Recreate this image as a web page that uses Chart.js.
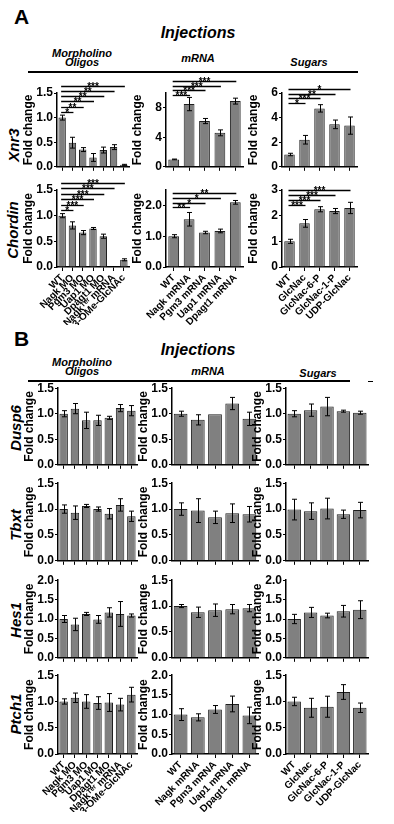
<!DOCTYPE html>
<html>
<head>
<meta charset="utf-8">
<script src="https://cdn.jsdelivr.net/npm/chart.js@4.4.1/dist/chart.umd.min.js"></script>
<style>
  body { margin: 0; background: #fff; width: 394px; height: 824px; position: relative; overflow: hidden;
         font-family: "Liberation Sans", Arial, sans-serif; }
  .t { position: absolute; font-weight: bold; color: #000; white-space: nowrap; line-height: 1; }
  .c { transform: translateX(-50%); text-align: center; }
  .i { font-style: italic; }
  .gene { position: absolute; transform: translate(-50%, -50%) rotate(-90deg); font-weight: bold;
          font-style: italic; font-size: 15px; white-space: nowrap; line-height: 1; }
  .rule { position: absolute; height: 1.5px; background: #000; }
  canvas { position: absolute; }
</style>
</head>
<body>
<div class="t" style="left:14px;top:6px;font-size:21px">A</div>
<div class="t c i" style="left:198px;top:25px;font-size:16px">Injections</div>
<div class="t c i" style="left:82px;top:49px;font-size:11px;line-height:9px">Morpholino<br>Oligos</div>
<div class="t c i" style="left:198px;top:53px;font-size:11px">mRNA</div>
<div class="t c i" style="left:309px;top:57px;font-size:11px">Sugars</div>
<div class="rule" style="left:28px;top:71px;width:330px"></div>

<div class="t" style="left:14px;top:328px;font-size:21px">B</div>
<div class="t c i" style="left:198px;top:342px;font-size:16px">Injections</div>
<div class="t c i" style="left:82px;top:358px;font-size:11px;line-height:9px">Morpholino<br>Oligos</div>
<div class="t c i" style="left:208px;top:366px;font-size:11px">mRNA</div>
<div class="t c i" style="left:318px;top:368px;font-size:11px">Sugars</div>
<div class="rule" style="left:28px;top:380px;width:322px"></div>
<div class="rule" style="left:368px;top:381px;width:5px;height:1px"></div>

<div class="gene" style="left:13px;top:145px">Xnr3</div>
<div class="gene" style="left:12px;top:230px">Chordin</div>
<div class="gene" style="left:15px;top:428px">Dusp6</div>
<div class="gene" style="left:15px;top:525px">Tbxt</div>
<div class="gene" style="left:15px;top:620px">Hes1</div>
<div class="gene" style="left:15px;top:714px">Ptch1</div>

<script>
// categories
const moLabels = ['WT', 'Nagk MO', 'Pgm3 MO', 'Uap1 MO', 'Dpagt1 MO', 'Nagkᵀᵉʳ mRNA', '3-OMe-GlcNAc'];
const mrnaLabels = ['WT', 'Nagk mRNA', 'Pgm3 mRNA', 'Uap1 mRNA', 'Dpagt1 mRNA'];
const sugarLabels = ['WT', 'GlcNac', 'GlcNac-6-P', 'GlcNac-1-P', 'UDP-GlcNac'];

// panel A
const xnr3MO = [1.0, 0.49, 0.35, 0.19, 0.34, 0.40, 0.04];
const xnr3MOErr = [0.05, 0.11, 0.04, 0.08, 0.06, 0.05, 0.01];
const xnr3MOSig = ['*', '**', '**', '**', '**', '***'];
const xnr3MRNA = [1.0, 8.5, 6.2, 4.6, 8.9];
const xnr3MRNAErr = [0.05, 0.9, 0.35, 0.4, 0.4];
const xnr3MRNASig = ['***', '***', '***', '***'];
const xnr3Sugar = [1.0, 2.2, 4.75, 3.45, 3.35];
const xnr3SugarErr = [0.1, 0.35, 0.3, 0.35, 0.7];
const xnr3SugarSig = ['*', '***', '**', '*'];

const chdMO = [1.0, 0.81, 0.67, 0.75, 0.6, null, 0.14];
const chdMOErr = [0.04, 0.07, 0.04, 0.02, 0.04, 0, 0.02];
const chdMOSig = ['*', '***', '***', '***', '***', '***'];
const chdMRNA = [1.0, 1.55, 1.12, 1.17, 2.1];
const chdMRNAErr = [0.05, 0.22, 0.04, 0.06, 0.06];
const chdMRNASig = ['**', '*', '*', '**'];
const chdSugar = [1.0, 1.7, 2.25, 2.18, 2.3];
const chdSugarErr = [0.08, 0.15, 0.1, 0.1, 0.22];
const chdSugarSig = ['***', '***', '***', '***'];

// panel B
const duspMO = [1.0, 1.1, 0.87, 0.87, 0.92, 1.11, 1.06];
const duspMOErr = [0.06, 0.1, 0.16, 0.1, 0.03, 0.07, 0.1];
const duspMRNA = [1.0, 0.88, 0.99, 1.2, 0.9];
const duspMRNAErr = [0.05, 0.1, 0, 0.12, 0.13];
const duspSugar = [1.0, 1.07, 1.14, 1.05, 1.02];
const duspSugarErr = [0.06, 0.12, 0.18, 0.02, 0.03];

const tbxtMO = [1.0, 0.93, 1.06, 1.0, 0.91, 1.08, 0.86];
const tbxtMOErr = [0.08, 0.13, 0.03, 0.04, 0.1, 0.12, 0.1];
const tbxtMRNA = [1.0, 0.97, 0.84, 0.92, 0.9];
const tbxtMRNAErr = [0.12, 0.23, 0.12, 0.18, 0.15];
const tbxtSugar = [0.99, 0.96, 1.01, 0.9, 0.98];
const tbxtSugarErr = [0.2, 0.16, 0.2, 0.08, 0.15];

const hesMO = [1.0, 0.86, 1.13, 0.99, 1.17, 1.13, 1.09];
const hesMOErr = [0.09, 0.16, 0.04, 0.1, 0.12, 0.32, 0.04];
const hesMRNA = [1.0, 0.88, 0.92, 0.94, 0.96];
const hesMRNAErr = [0.03, 0.1, 0.12, 0.09, 0.07];
const hesSugar = [1.0, 1.17, 1.09, 1.2, 1.24];
const hesSugarErr = [0.12, 0.13, 0.06, 0.15, 0.23];

const ptchMO = [1.0, 1.07, 1.0, 0.97, 0.98, 0.94, 1.13];
const ptchMOErr = [0.05, 0.09, 0.13, 0.12, 0.17, 0.12, 0.14];
const ptchMRNA = [1.0, 0.93, 1.13, 1.27, 0.98];
const ptchMRNAErr = [0.15, 0.09, 0.1, 0.2, 0.21];
const ptchSugar = [1.0, 0.88, 0.9, 1.18, 0.88];
const ptchSugarErr = [0.08, 0.18, 0.2, 0.14, 0.09];

Chart.defaults.font.family = '"Liberation Sans", Arial, sans-serif';
Chart.defaults.font.weight = 'bold';
Chart.defaults.color = '#000';

// error bars + significance brackets
const extras = {
  id: 'extras',
  afterDatasetsDraw(chart, args, opts) {
    const ctx = chart.ctx, xs = chart.scales.x, ys = chart.scales.y;
    const ds = chart.data.datasets[0];
    ctx.save();
    ctx.strokeStyle = '#000';
    ctx.fillStyle = '#000';
    ctx.lineWidth = 1;
    ds.data.forEach((v, i) => {
      const e = ds.err[i];
      if (v == null || !e) return;
      const x = Math.round(xs.getPixelForValue(i)) + 0.5;
      const yt = ys.getPixelForValue(v + e), yb = ys.getPixelForValue(v - e);
      ctx.beginPath();
      ctx.moveTo(x, yt); ctx.lineTo(x, yb);
      ctx.moveTo(x - 2.5, yt); ctx.lineTo(x + 2.5, yt);
      ctx.moveTo(x - 2.5, yb); ctx.lineTo(x + 2.5, yb);
      ctx.stroke();
    });
    (opts.sig || []).forEach((lab, k) => {
      const x0 = xs.getPixelForValue(0), x1 = xs.getPixelForValue(k + 1);
      const y = Math.round(ys.getPixelForValue(opts.base + k * opts.step)) + 0.5;
      ctx.lineWidth = 1.3;
      ctx.beginPath();
      ctx.moveTo(x0 - 1, y); ctx.lineTo(x1 + 1, y);
      ctx.stroke();
      ctx.font = 'bold 10px "Liberation Sans", Arial';
      ctx.textAlign = 'center';
      ctx.textBaseline = 'alphabetic';
      ctx.fillText(lab, (x0 + x1) / 2, y + 3);
    });
    ctx.restore();
  }
};

function panel(o) {
  const yw = 36;
  const padTop = o.padTop;
  const bottom = o.labels ? 58 : 6;
  const w = o.right - o.left + yw + 6;
  const h = padTop + (o.bottom - o.top) + bottom;
  const c = document.createElement('canvas');
  c.width = w; c.height = h;
  c.style.left = (o.left - yw) + 'px';
  c.style.top = (o.top - padTop) + 'px';
  document.body.appendChild(c);
  new Chart(c, {
    type: 'bar',
    data: {
      labels: o.cats,
      datasets: [{
        data: o.data,
        err: o.err,
        backgroundColor: '#808080',
        borderColor: '#1e1e1e',
        borderWidth: 1,
        barPercentage: o.bp,
        categoryPercentage: 1
      }]
    },
    options: {
      responsive: false,
      animation: false,
      devicePixelRatio: 1,
      layout: { padding: { top: padTop, right: 6, left: 0, bottom: 0 } },
      plugins: {
        legend: { display: false },
        tooltip: { enabled: false },
        extras: { sig: o.sig, base: o.sigBase, step: o.sigStep }
      },
      scales: {
        x: {
          grid: { drawOnChartArea: false, drawTicks: true, tickLength: 4, color: '#000', offset: false },
          border: { color: '#000', width: 1.5 },
          ticks: { display: !!o.labels, autoSkip: false, maxRotation: 45, minRotation: 45, padding: 1,
                   font: { size: 10, weight: 'bold' } },
          afterFit: s => { s.height = bottom; }
        },
        y: {
          min: 0, max: o.max,
          ticks: { stepSize: o.step, padding: 1, font: { size: 12, weight: 'bold' },
                   callback: v => o.dec ? v.toFixed(1) : v },
          grid: { drawOnChartArea: false, tickLength: 3, color: '#000' },
          border: { color: '#000', width: 1.5 },
          title: { display: true, text: 'Fold change', font: { size: 12, weight: 'bold' },
                   padding: { top: 0, bottom: 0 } },
          afterFit: s => { s.width = yw; }
        }
      }
    },
    plugins: [extras]
  });
}

const colA = { mo: [57, 129], mrna: [166, 243], sugar: [282, 357] };
const colB = { mo: [58, 137], mrna: [172, 258], sugar: [286, 368] };

// panel A, row 1 (Xnr3)
panel({ left: colA.mo[0], right: colA.mo[1], top: 93, bottom: 169, padTop: 20, cats: moLabels, bp: 0.72,
        data: xnr3MO, err: xnr3MOErr, max: 1.5, step: 0.5, dec: true, sig: xnr3MOSig, sigBase: 1.12, sigStep: 0.104 });
panel({ left: colA.mrna[0], right: colA.mrna[1], top: 93, bottom: 169, padTop: 20, cats: mrnaLabels, bp: 0.7,
        data: xnr3MRNA, err: xnr3MRNAErr, max: 10, step: 2, sig: xnr3MRNASig, sigBase: 9.7, sigStep: 0.65 });
panel({ left: colA.sugar[0], right: colA.sugar[1], top: 93, bottom: 169, padTop: 20, cats: sugarLabels, bp: 0.7,
        data: xnr3Sugar, err: xnr3SugarErr, max: 6, step: 2, sig: xnr3SugarSig, sigBase: 5.2, sigStep: 0.37 });

// panel A, row 2 (Chordin)
panel({ left: colA.mo[0], right: colA.mo[1], top: 190, bottom: 267, padTop: 20, cats: moLabels, bp: 0.72, labels: true,
        data: chdMO, err: chdMOErr, max: 1.5, step: 0.5, dec: true, sig: chdMOSig, sigBase: 1.11, sigStep: 0.106 });
panel({ left: colA.mrna[0], right: colA.mrna[1], top: 190, bottom: 267, padTop: 20, cats: mrnaLabels, bp: 0.7, labels: true,
        data: chdMRNA, err: chdMRNAErr, max: 2.5, step: 0.5, dec: true, sig: chdMRNASig, sigBase: 1.94, sigStep: 0.153 });
panel({ left: colA.sugar[0], right: colA.sugar[1], top: 190, bottom: 267, padTop: 20, cats: sugarLabels, bp: 0.7, labels: true,
        data: chdSugar, err: chdSugarErr, max: 3, step: 1, sig: chdSugarSig, sigBase: 2.41, sigStep: 0.2 });

// panel B
const rowsB = [
  { top: 388, bottom: 467, mo: [duspMO, duspMOErr, 1.5], mrna: [duspMRNA, duspMRNAErr, 1.5], sugar: [duspSugar, duspSugarErr, 1.5] },
  { top: 483, bottom: 563, mo: [tbxtMO, tbxtMOErr, 1.5], mrna: [tbxtMRNA, tbxtMRNAErr, 1.5], sugar: [tbxtSugar, tbxtSugarErr, 1.5] },
  { top: 580, bottom: 660, mo: [hesMO, hesMOErr, 2.0], mrna: [hesMRNA, hesMRNAErr, 1.5], sugar: [hesSugar, hesSugarErr, 2.0] },
  { top: 675, bottom: 754, mo: [ptchMO, ptchMOErr, 1.5], mrna: [ptchMRNA, ptchMRNAErr, 2.0], sugar: [ptchSugar, ptchSugarErr, 1.5], labels: true }
];
rowsB.forEach(r => {
  [['mo', moLabels, 0.75], ['mrna', mrnaLabels, 0.8], ['sugar', sugarLabels, 0.82]].forEach(([k, cats, bp]) => {
    panel({ left: colB[k][0], right: colB[k][1], top: r.top, bottom: r.bottom, padTop: 8, cats, bp, labels: r.labels,
            data: r[k][0], err: r[k][1], max: r[k][2], step: 0.5, dec: true });
  });
});
</script>
</body>
</html>
